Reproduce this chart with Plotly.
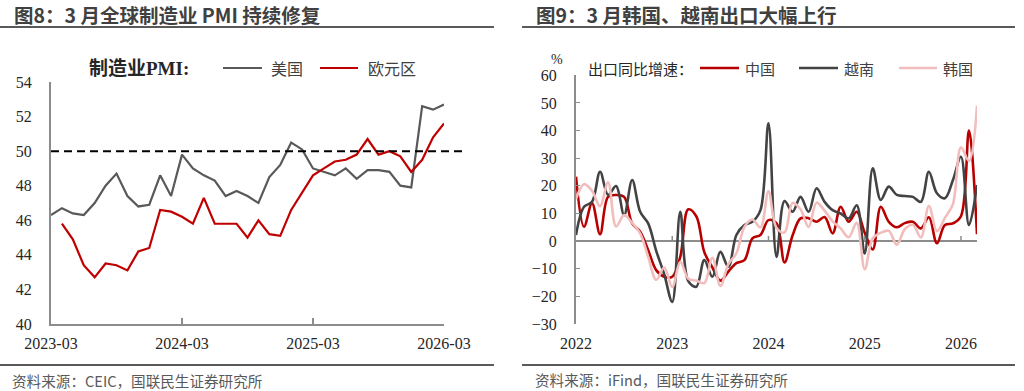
import pandas as pd
import plotly.graph_objects as go

W, H = 1024, 391

# ---------------- Left chart data: manufacturing PMI ----------------
pmi_months = [d.strftime("%Y-%m") for d in pd.date_range("2023-03-01", "2026-03-01", freq="MS")]
pmi_tick_vals = ["2023-03", "2024-03", "2025-03", "2026-03"]
pmi_names = ["美国", "欧元区"]
us_pmi = [46.3, 46.7, 46.4, 46.3, 47.0, 48.0, 48.7, 47.4, 46.8, 46.9, 48.6, 47.4, 49.8,
          49.0, 48.6, 48.3, 47.4, 47.7, 47.4, 47.0, 48.5, 49.2, 50.5, 50.1, 49.0,
          48.8, 48.6, 49.0, 48.4, 48.9, 48.9, 48.8, 48.0, 47.9, 52.6, 52.4, 52.7]
ez_pmi = [None, 45.8, 44.9, 43.4, 42.7, 43.5, 43.4, 43.1, 44.2, 44.4, 46.6, 46.5, 46.2,
          45.8, 47.3, 45.8, 45.8, 45.8, 45.0, 46.0, 45.2, 45.1, 46.6, 47.6, 48.6,
          49.0, 49.4, 49.5, 49.8, 50.7, 49.8, 50.0, 49.7, 48.8, 49.5, 50.8, 51.6]
pmi_threshold = 50

# ---------------- Right chart data: export YoY growth (%) ----------------
exp_months = [d.strftime("%Y-%m") for d in pd.date_range("2022-01-01", "2026-03-01", freq="MS")]
exp_tick_vals = ["2022-01", "2023-01", "2024-01", "2025-01", "2026-01"]
exp_tick_text = ["2022", "2023", "2024", "2025", "2026"]
exp_names = ["中国", "越南", "韩国"]
china_exp = [23.3, 5.2, 13.7, 2.5, 16.0, 16.7, 16.0, 6.4, 3.4, -3.3, -10.5, -12.9,
             -12.9, -5.7, 11.5, 9.0, -4.0, -9.5, -14.3, -11.0, -8.0, -6.9, 1.0, 2.2,
             7.6, 6.4, -7.7, 2.0, 8.2, 8.3, 7.0, 8.7, 2.8, 12.4, 7.0, 10.6,
             3.0, -3.0, 12.4, 7.0, 5.0, 6.5, 7.0, 4.6, 8.6, -0.8, 5.8, 6.4,
             9.0, 40.0, 2.5]
vietnam_exp = [2.2, 12.4, 14.2, 25.1, 16.7, 19.9, 9.4, 22.1, 10.6, 6.4, -3.5, -12.0,
               -22.0, 10.6, -14.5, -16.5, -6.9, -12.9, -3.9, -9.3, 2.2, 5.8, 7.0, 11.2,
               42.6, -5.7, 14.5, 10.6, 16.0, 10.6, 19.1, 14.2, 11.2, 10.0, 8.2, 13.0,
               -4.5, 26.3, 14.9, 19.7, 16.7, 16.3, 16.0, 14.2, 25.1, 17.3, 15.5, 22.1,
               30.5, 5.8, 20.3]
korea_exp = [15.2, 20.6, 18.2, 12.6, 21.3, 5.3, 9.4, 6.6, 2.8, -5.7, -14.0, -9.6,
             -16.6, -7.5, -13.6, -14.3, -15.2, -6.0, -16.2, -8.3, -4.4, 5.1, 7.8, 5.0,
             18.0, 4.8, 3.1, 13.8, 11.5, 5.1, 13.9, 11.0, 7.1, 4.6, 1.4, 6.6,
             -10.2, 1.0, 3.0, 3.7, -1.3, 4.3, 5.9, 1.3, 12.7, 3.6, 8.4, 13.4,
             33.9, 29.0, 49.0]

# ---------------- styles ----------------
C_US = "#595959"
C_EZ = "#C00000"
C_CN = "#B80000"
C_VN = "#434343"
C_KR = "#F2BDBD"
AXIS_C = "#8C8C8C"
SERIF = "Liberation Serif, Noto Sans CJK SC"
SANS = "Noto Sans CJK SC"
TXT = "#262626"


def px(x):
    return x / W


def py(y):
    return 1 - y / H


fig = go.Figure()

fig.add_trace(go.Scatter(x=pmi_months, y=us_pmi, name=pmi_names[0], mode="lines",
                         line=dict(color=C_US, width=2.2), xaxis="x", yaxis="y", showlegend=False))
fig.add_trace(go.Scatter(x=pmi_months, y=ez_pmi, name=pmi_names[1], mode="lines",
                         line=dict(color=C_EZ, width=2.2), xaxis="x", yaxis="y", showlegend=False))

for name, vals, col in zip(exp_names, [china_exp, vietnam_exp, korea_exp], [C_CN, C_VN, C_KR]):
    fig.add_trace(go.Scatter(x=exp_months, y=vals, name=name, mode="lines",
                             line=dict(color=col, width=2.6, shape="spline", smoothing=1.0),
                             xaxis="x2", yaxis="y2", showlegend=False))

fig.update_layout(
    width=W, height=H,
    margin=dict(l=0, r=0, t=0, b=0, pad=0, autoexpand=False),
    paper_bgcolor="white", plot_bgcolor="white",
    showlegend=False,
    xaxis=dict(
        domain=[px(51), px(444)], type="category", categoryorder="array", categoryarray=pmi_months,
        range=[0, len(pmi_months) - 1], tickmode="array", tickvals=pmi_tick_vals, ticktext=pmi_tick_vals,
        showline=True, linecolor=AXIS_C, linewidth=2, ticks="inside", ticklen=6, tickwidth=1.5,
        tickcolor=AXIS_C, showgrid=False, zeroline=False, anchor="y", automargin=False,
        tickfont=dict(family=SERIF, size=16, color=TXT), ticklabelstandoff=4,
    ),
    yaxis=dict(
        domain=[py(324), py(82)], range=[40, 54], dtick=2, tick0=40,
        showline=True, linecolor=AXIS_C, linewidth=2, ticks="", showgrid=False, zeroline=False,
        anchor="x", automargin=False, tickfont=dict(family=SERIF, size=16, color=TXT), ticklabelstandoff=14,
    ),
    xaxis2=dict(
        domain=[px(576), px(977)], type="category", categoryorder="array", categoryarray=exp_months,
        range=[0, len(exp_months) - 1], tickmode="array", tickvals=exp_tick_vals, ticktext=exp_tick_text,
        showline=False, ticks="", showgrid=False, zeroline=False, anchor="y2", automargin=False,
        tickfont=dict(family=SERIF, size=16, color=TXT), ticklabelstandoff=8,
    ),
    yaxis2=dict(
        domain=[py(324), py(75.3)], range=[-30, 60], dtick=10, tick0=-30,
        showline=True, linecolor=AXIS_C, linewidth=2, ticks="inside", ticklen=4, tickcolor=AXIS_C,
        showgrid=False, zeroline=True, zerolinecolor=AXIS_C, zerolinewidth=2, automargin=False,
        anchor="x2", tickfont=dict(family=SERIF, size=16, color=TXT), ticklabelstandoff=14,
    ),
)

shapes = []
annotations = []

# threshold dashed line (left chart)
shapes.append(dict(type="line", xref="paper", yref="y", x0=px(51), x1=px(462),
                   y0=pmi_threshold, y1=pmi_threshold,
                   line=dict(color="#000000", width=2, dash="8px,5px"), layer="above"))

# small ticks on the zero line (right chart)
for tv in exp_tick_vals[1:]:
    shapes.append(dict(type="line", xref="x2", yref="y2", x0=tv, x1=tv,
                       ysizemode="pixel", yanchor=0, y0=0, y1=5,
                       line=dict(color=AXIS_C, width=1.5)))

# header & footer rules
for (x0, x1, y) in [(0, 494, 27), (522, 1015, 27), (0, 494, 365), (522, 1015, 365)]:
    shapes.append(dict(type="line", xref="paper", yref="paper", x0=px(x0), x1=px(x1),
                       y0=py(y), y1=py(y), line=dict(color="#595959", width=2)))

# titles
annotations.append(dict(text="图8：3 月全球制造业 PMI 持续修复", x=px(12), y=py(15), xref="paper", yref="paper",
                        xanchor="left", yanchor="middle", showarrow=False,
                        font=dict(family=SANS, size=19.5, color="#404040", weight=700)))
annotations.append(dict(text="图9：3 月韩国、越南出口大幅上行", x=px(534), y=py(15), xref="paper", yref="paper",
                        xanchor="left", yanchor="middle", showarrow=False,
                        font=dict(family=SANS, size=19.5, color="#404040", weight=700)))

# footers
annotations.append(dict(text="资料来源：CEIC，国联民生证券研究所", x=px(10), y=py(380), xref="paper", yref="paper",
                        xanchor="left", yanchor="middle", showarrow=False,
                        font=dict(family=SANS, size=14.6, color="#595959")))
annotations.append(dict(text="资料来源：iFind，国联民生证券研究所", x=px(533), y=py(379), xref="paper", yref="paper",
                        xanchor="left", yanchor="middle", showarrow=False,
                        font=dict(family=SANS, size=14.6, color="#595959")))

# left legend
annotations.append(dict(text="制造业PMI:", x=px(87), y=py(68), xref="paper", yref="paper",
                        xanchor="left", yanchor="middle", showarrow=False,
                        font=dict(family=SERIF, size=19, color=TXT, weight=700)))
for (lx0, lx1, tx), name, col in zip([(223, 262, 269), (320, 358, 366)], pmi_names, [C_US, C_EZ]):
    shapes.append(dict(type="line", xref="paper", yref="paper", x0=px(lx0), x1=px(lx1),
                       y0=py(68), y1=py(68), line=dict(color=col, width=2.2)))
    annotations.append(dict(text=name, x=px(tx), y=py(68), xref="paper", yref="paper",
                            xanchor="left", yanchor="middle", showarrow=False,
                            font=dict(family=SANS, size=16, color="#404040")))

# right legend
annotations.append(dict(text="出口同比增速：", x=px(586), y=py(68), xref="paper", yref="paper",
                        xanchor="left", yanchor="middle", showarrow=False,
                        font=dict(family=SANS, size=15, color=TXT)))
for (lx0, lx1, tx), name, col in zip([(700, 739, 743), (799, 838, 842), (899, 937, 941)],
                                     exp_names, [C_CN, C_VN, C_KR]):
    shapes.append(dict(type="line", xref="paper", yref="paper", x0=px(lx0), x1=px(lx1),
                       y0=py(68), y1=py(68), line=dict(color=col, width=2.6)))
    annotations.append(dict(text=name, x=px(tx), y=py(68), xref="paper", yref="paper",
                            xanchor="left", yanchor="middle", showarrow=False,
                            font=dict(family=SANS, size=15, color="#404040")))

# percent unit
annotations.append(dict(text="%", x=px(557), y=py(60), xref="paper", yref="paper",
                        xanchor="center", yanchor="middle", showarrow=False,
                        font=dict(family=SERIF, size=14, color=TXT)))

fig.update_layout(shapes=shapes, annotations=annotations)
fig.write_html("out.html", config={"displayModeBar": False, "staticPlot": True},
               post_script="document.body.style.margin='0';document.body.style.overflow='hidden';")
